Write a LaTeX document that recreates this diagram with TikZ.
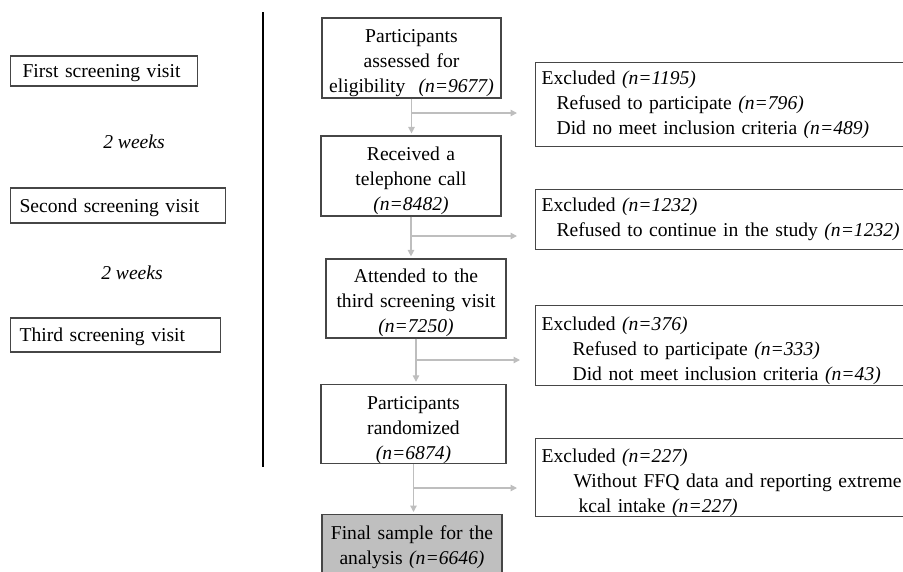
\documentclass[tikz,border=0pt]{standalone}
\usepackage{fontspec}
\setmainfont{Liberation Serif}
\usetikzlibrary{arrows.meta, positioning}
\definecolor{grisFlecha}{RGB}{190,190,190}
\definecolor{grisBorde}{RGB}{70,70,70}
\definecolor{grisFinal}{RGB}{191,191,191}
\newcommand{\ncount}[1]{\textit{(n=#1)}}
\newcommand{\padtop}[1]{\rule{0pt}{#1}}
\newcommand{\flowfont}{\fontsize{19.6}{25}\selectfont}

\begin{document}
\begin{tikzpicture}[x=1pt, y=-1pt,
    mainbox/.style={draw=grisBorde, line width=1.2pt, inner sep=0pt, align=center, font=\flowfont},
    exbox/.style={draw=grisBorde, line width=1.2pt, inner xsep=6pt, inner ysep=0pt, text width=372pt, align=left, anchor=north west, font=\flowfont},
    visitbox/.style={draw=grisBorde, line width=1.2pt, inner xsep=9pt, inner ysep=0pt, align=left, anchor=west, font=\flowfont},
    arrow/.style={line width=1.3pt, draw=grisFlecha, -{Triangle[length=6.5pt, width=6.5pt]}}
]
    \useasboundingbox (0,0) rectangle (903,571);

    % screening visits
    \node[visitbox, text width=169pt, minimum height=30pt] (v1) at (10,71) {\padtop{18pt}\hspace*{3pt}First screening visit};
    \node[visitbox, text width=197pt, minimum height=35pt] (v2) at (10,205.5) {\padtop{18pt}Second screening visit};
    \node[visitbox, text width=192pt, minimum height=34pt] (v3) at (10,335) {\padtop{18pt}Third screening visit};
    \node[font=\flowfont\itshape] (w1) at (134,142) {2 weeks};
    \node[font=\flowfont\itshape] (w2) at (132,273) {2 weeks};

    \draw[line width=2pt] (263,12) -- (263,467);

    % flow
    \node[mainbox, text width=179pt, minimum height=80pt] (b1) at (411.5,58) {\padtop{23pt}Participants\\assessed for\\eligibility\ \ \ncount{9677}};
    \node[mainbox, text width=180pt, minimum height=80pt] (b2) at (411,176) {\padtop{23pt}Received a\\telephone call\\\ncount{8482}};
    \node[mainbox, text width=180pt, minimum height=79pt] (b3) at (416,298.5) {\padtop{23pt}Attended to the\\third screening visit\\\ncount{7250}};
    \node[mainbox, text width=185pt, minimum height=76pt] (b4) at (413.5,424) {\padtop{25pt}Participants\\randomized\\\ncount{6874}};
    \node[mainbox, fill=grisFinal, text width=180pt, minimum height=66pt, anchor=north] (b5) at (412,514) {Final sample for the\\analysis \ncount{6646}};

    % exclusions
    \node[exbox, minimum height=84pt] (e1) at (535,62) {Excluded \ncount{1195}\\\hspace*{15pt}Refused to participate \ncount{796}\\\hspace*{15pt}Did no meet inclusion criteria \ncount{489}};
    \node[exbox, minimum height=60pt] (e2) at (535,189) {Excluded \ncount{1232}\\\hspace*{15pt}Refused to continue in the study \ncount{1232}};
    \node[exbox, minimum height=80pt] (e3) at (535,305) {\padtop{24pt}Excluded \ncount{376}\\\hspace*{31pt}Refused to participate \ncount{333}\\\hspace*{31pt}Did not meet inclusion criteria \ncount{43}};
    \node[exbox, minimum height=77pt] (e4) at (535,438) {\padtop{24pt}Excluded \ncount{227}\\\hspace*{32pt}Without FFQ data and reporting extreme\\\hspace*{37pt}kcal intake \ncount{227}};

    \coordinate (j1) at (b1.south |- 0,113);
    \coordinate (j2) at (b2.south |- 0,236);
    \coordinate (j3) at (b3.south |- 0,360);
    \coordinate (j4) at (b4.south |- 0,488);

    \draw[arrow, shorten >=2pt] (b1.south) -- (b1.south |- b2.north);
    \draw[arrow, shorten >=2pt] (b2.south) -- (b2.south |- b3.north);
    \draw[arrow, shorten >=2pt] (b3.south) -- (b3.south |- b4.north);
    \draw[arrow, shorten >=2pt] (b4.south) -- (b4.south |- b5.north);

    \draw[arrow, shorten >=18pt] (j1) -- (j1 -| e1.west);
    \draw[arrow, shorten >=18pt] (j2) -- (j2 -| e2.west);
    \draw[arrow, shorten >=15pt] (j3) -- (j3 -| e3.west);
    \draw[arrow, shorten >=18pt] (j4) -- (j4 -| e4.west);
\end{tikzpicture}
\end{document}
